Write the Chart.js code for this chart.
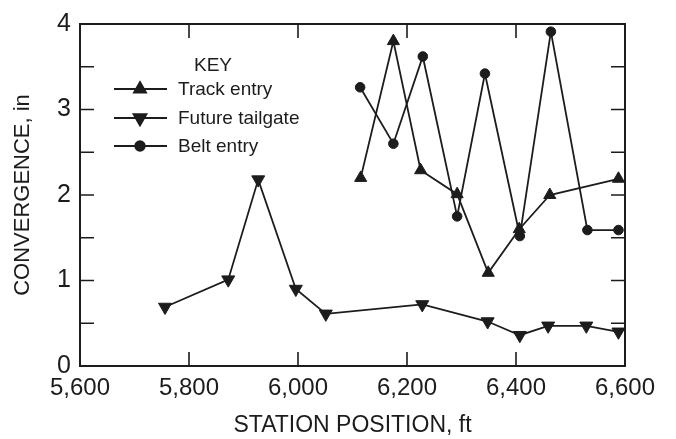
<!DOCTYPE html>
<html>
<head>
<meta charset="utf-8">
<script src="https://cdn.jsdelivr.net/npm/chart.js@4"></script>
<style>
  html, body { margin: 0; padding: 0; background: #fff; }
  #wrap { width: 676px; height: 439px; }
</style>
</head>
<body>
<div id="wrap"><canvas id="c" width="676" height="439"></canvas></div>
<script>
// ---- data ----
const trackX = [6115, 6175, 6225, 6292, 6349, 6406, 6462, 6588];
const trackY = [2.20, 3.80, 2.29, 2.01, 1.09, 1.60, 2.00, 2.19];

const tailX = [5756, 5872, 5927, 5996, 6051, 6228, 6348, 6407, 6459, 6529, 6588];
const tailY = [0.69, 1.01, 2.18, 0.90, 0.61, 0.72, 0.52, 0.36, 0.47, 0.47, 0.40];

const beltX = [6114, 6175, 6229, 6292, 6343, 6407, 6464, 6531, 6588];
const beltY = [3.26, 2.60, 3.62, 1.75, 3.42, 1.52, 3.91, 1.59, 1.59];

const seriesNames = ['Track entry', 'Future tailgate', 'Belt entry'];
const xTicks = [5600, 5800, 6000, 6200, 6400, 6600];
const yTicks = [0, 1, 2, 3, 4];
const yMinorStep = 0.5;
const legendTitle = 'KEY';
const xTitle = 'STATION POSITION, ft';
const yTitle = 'CONVERGENCE, in';

const INK = '#1c1c1c';
const FONT = "'Liberation Sans', Arial, sans-serif";

function pts(xs, ys) { return xs.map((x, i) => ({ x: x, y: ys[i] })); }

// frame + inward ticks
const framePlugin = {
  id: 'frame',
  afterDatasetsDraw(chart) {
    const { ctx, chartArea: a, scales: { x, y } } = chart;
    ctx.save();
    ctx.strokeStyle = INK;
    ctx.lineWidth = 2;
    ctx.strokeRect(a.left, a.top, a.right - a.left, a.bottom - a.top);
    ctx.lineWidth = 1.6;
    ctx.beginPath();
    for (let v = y.min + yMinorStep; v < y.max; v += yMinorStep) {
      const py = y.getPixelForValue(v);
      ctx.moveTo(a.left, py); ctx.lineTo(a.left + 14, py);
      ctx.moveTo(a.right, py); ctx.lineTo(a.right - 14, py);
    }
    xTicks.forEach(v => {
      if (v <= x.min || v >= x.max) return;
      const px = x.getPixelForValue(v);
      ctx.moveTo(px, a.bottom); ctx.lineTo(px, a.bottom - 14);
      ctx.moveTo(px, a.top); ctx.lineTo(px, a.top + 14);
    });
    ctx.stroke();
    ctx.restore();
  }
};

// key drawn inside the plot
const keyPlugin = {
  id: 'key',
  afterDatasetsDraw(chart) {
    const { ctx } = chart;
    ctx.save();
    ctx.fillStyle = INK;
    ctx.strokeStyle = INK;
    ctx.font = '19px ' + FONT;
    ctx.textBaseline = 'middle';
    ctx.textAlign = 'left';
    ctx.fillText(legendTitle, 194, 66);
    const rows = [89, 118, 146];
    chart.data.datasets.forEach((ds, i) => {
      const yy = rows[i];
      ctx.lineWidth = 1.8;
      ctx.beginPath(); ctx.moveTo(114, yy); ctx.lineTo(167, yy); ctx.stroke();
      Chart.helpers.drawPoint(ctx, {
        pointStyle: ds.pointStyle, rotation: ds.pointRotation || 0,
        radius: ds.pointRadius, borderWidth: 1
      }, 140, yy);
      ctx.fill();
      ctx.fillText(ds.label, 178, yy + 1);
    });
    ctx.restore();
  }
};

const common = {
  borderColor: INK, backgroundColor: INK,
  pointBackgroundColor: INK, pointBorderColor: INK,
  borderWidth: 1.8, pointBorderWidth: 1, tension: 0, fill: false
};

new Chart(document.getElementById('c'), {
  type: 'line',
  data: {
    datasets: [
      Object.assign({ label: seriesNames[0], data: pts(trackX, trackY),
        pointStyle: 'triangle', pointRadius: 7, pointRotation: 0 }, common),
      Object.assign({ label: seriesNames[1], data: pts(tailX, tailY),
        pointStyle: 'triangle', pointRadius: 7.5, pointRotation: 180 }, common),
      Object.assign({ label: seriesNames[2], data: pts(beltX, beltY),
        pointStyle: 'circle', pointRadius: 4.8, pointRotation: 0 }, common)
    ]
  },
  options: {
    responsive: false,
    animation: false,
    layout: { padding: { top: 19, right: 51, left: 0, bottom: 0 } },
    plugins: { legend: { display: false }, tooltip: { enabled: false } },
    scales: {
      x: {
        type: 'linear', min: xTicks[0], max: xTicks[xTicks.length - 1],
        afterBuildTicks: s => { s.ticks = xTicks.map(v => ({ value: v })); },
        afterFit: s => { s.height = 73; },
        grid: { display: false, drawTicks: false },
        border: { display: false },
        ticks: {
          color: INK, padding: 8, maxRotation: 0, autoSkip: false,
          font: { family: FONT, size: 24 },
          callback: v => v.toLocaleString('en-US')
        },
        title: {
          display: true, text: xTitle, color: INK,
          font: { family: FONT, size: 23 }, padding: { top: 0, bottom: 0 }
        }
      },
      y: {
        type: 'linear', min: yTicks[0], max: yTicks[yTicks.length - 1],
        afterBuildTicks: s => { s.ticks = yTicks.map(v => ({ value: v })); },
        afterFit: s => { s.width = 80; },
        grid: { display: false, drawTicks: false },
        border: { display: false },
        ticks: {
          color: INK, padding: 9,
          font: { family: FONT, size: 25 },
          callback: v => String(v)
        },
        title: {
          display: true, text: yTitle, color: INK,
          font: { family: FONT, size: 22 }, padding: { top: 10, bottom: 0 }
        }
      }
    }
  },
  plugins: [framePlugin, keyPlugin]
});
</script>
</body>
</html>
